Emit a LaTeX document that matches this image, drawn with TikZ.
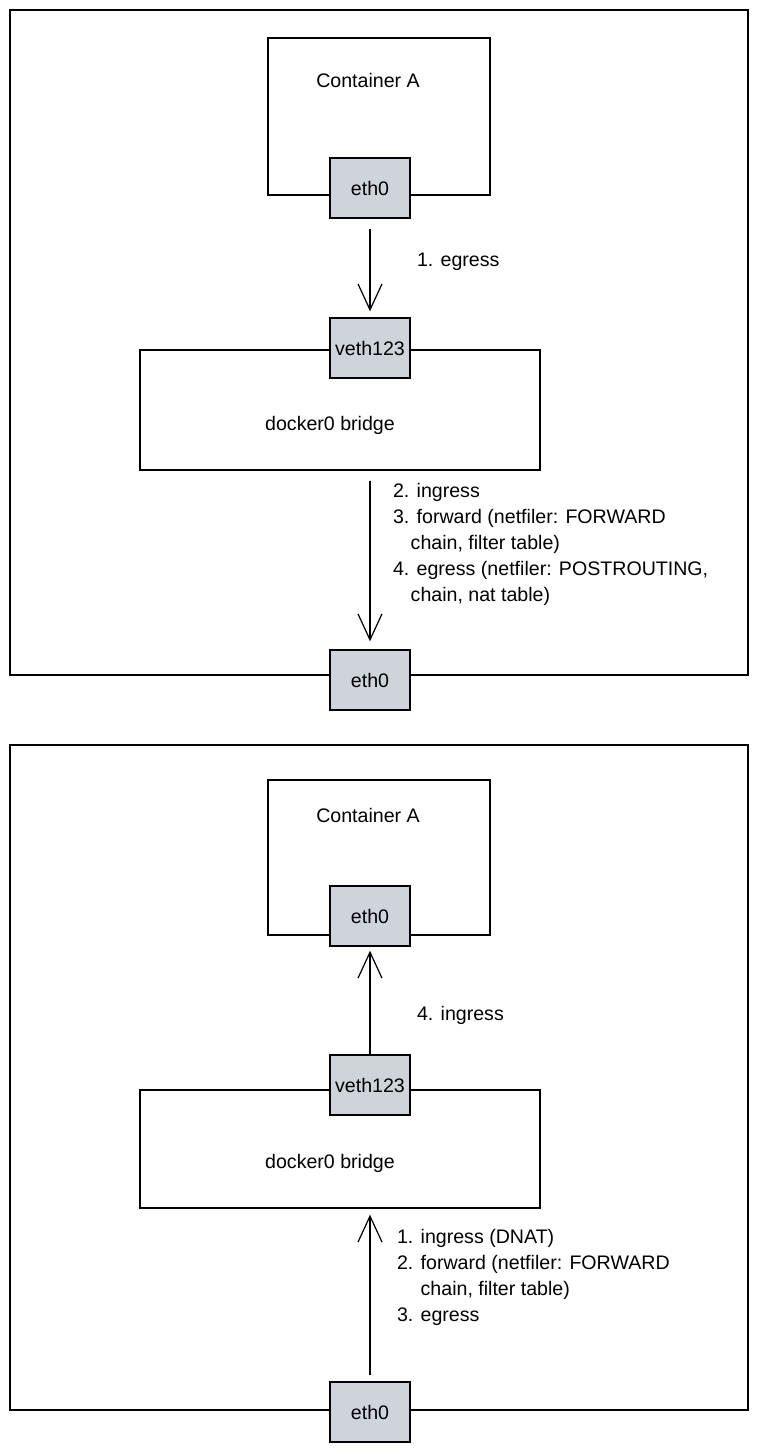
\documentclass[tikz,border=0pt]{standalone}
\usepackage{fontspec}
\setmainfont{Liberation Sans}
\usetikzlibrary{arrows.meta, positioning, fit}

\definecolor{portgray}{RGB}{206,212,218}
\newcommand{\sketchfont}{\fontsize{9.8}{13}\selectfont}

\begin{document}
\begin{tikzpicture}[x=0.5pt, y=-0.5pt,
  frame/.style={draw, line width=0.65pt, inner sep=0pt},
  port/.style={draw, fill=portgray, line width=0.7pt,
               minimum width=40pt, minimum height=30pt, inner sep=1pt, font=\sketchfont},
  lbl/.style={font=\sketchfont},
  note/.style={font=\sketchfont, anchor=north west, align=left},
  flow/.style={-{Straight Barb[length=13pt, width=12pt]}, line width=0.6pt}
]
  \useasboundingbox (0,0) rectangle (758,1456);
  % Egress: container -> host
  \node[frame, fit={(10,10) (748,675)}] (hostA) {};
  \node[frame, fit={(268,38) (490,195)}] (boxA) {};
  \node[lbl] (nameA) at (368,80) {Container A};
  \node[port] (ethA) at (370,188) {eth0};
  \node[frame, fit={(140,350) (540,470)}] (bridgeA) {};
  \node[port] (vethA) at (370,348) {veth123};
  \node[lbl] (brlblA) at (330,425) {docker0 bridge};
  \node[port] (hethA) at (370,680) {eth0};
  \draw[flow, shorten <=5pt, shorten >=3pt] (ethA.south) -- (vethA.north);
  \node[lbl, anchor=west] (stepA1) at (410,262) {1. egress};
  \draw[flow, shorten <=5pt, shorten >=4pt] (hethA |- bridgeA.south) -- (hethA.north);
  \node[note] (stepsA) at (386,476)
    {2. ingress\\
     3. forward (netfiler: FORWARD\\
     \hspace*{0.9em}chain, filter table)\\
     4. egress (netfiler: POSTROUTING,\\
     \hspace*{0.9em}chain, nat table)};
  % Ingress: host -> container
  \node[frame, fit={(10,745) (748,1410)}] (hostB) {};
  \node[frame, fit={(268,780) (490,935)}] (boxB) {};
  \node[lbl] (nameB) at (368,815) {Container A};
  \node[port] (ethB) at (370,916) {eth0};
  \node[frame, fit={(140,1090) (540,1208)}] (bridgeB) {};
  \node[port] (vethB) at (370,1085) {veth123};
  \node[lbl] (brlblB) at (330,1163) {docker0 bridge};
  \node[port] (hethB) at (370,1412) {eth0};
  \draw[flow, shorten >=2pt] (vethB.north) -- (ethB.south);
  \node[lbl, anchor=west] (stepB4) at (410,1015) {4. ingress};
  \draw[flow, shorten <=3pt, shorten >=3pt] (hethB.north) -- (hethB |- bridgeB.south);
  \node[note] (stepsB) at (390,1222)
    {1. ingress (DNAT)\\
     2. forward (netfiler: FORWARD\\
     \hphantom{2. }chain, filter table)\\
     3. egress};
\end{tikzpicture}
\end{document}
